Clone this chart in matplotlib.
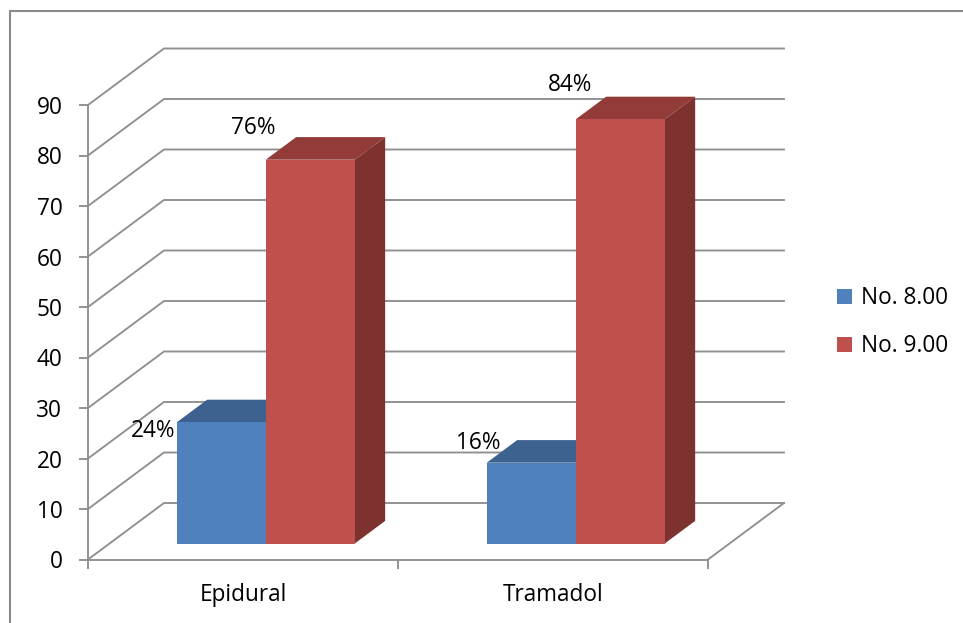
import matplotlib
matplotlib.use("Agg")
import matplotlib.pyplot as plt
from matplotlib.lines import Line2D
from matplotlib.patches import Patch

# Chart data
categories = ["Epidural", "Tramadol"]
series_names = ["No. 8.00", "No. 9.00"]
no_8_values = [24, 16]
no_9_values = [76, 84]
y_ticks = [0, 10, 20, 30, 40, 50, 60, 70, 80, 90]

W, H = 963, 623
plt.rcParams["font.family"] = ["Open Sans", "DejaVu Sans"]
TEXT_SIZE = 16.3
GRID = "#8f8f8f"
FRAME = "#8a8a8a"
LW = 1.35

fig = plt.figure(figsize=(W / 100, H / 100), dpi=100, facecolor="white")

# Front plane of the 3-D box in figure pixels
left, right, bottom, top = 88, 708, 559.5, 105
ax = fig.add_axes([left / W, 1 - bottom / H, (right - left) / W, (bottom - top) / H])
ax.set_xlim(0, len(categories))
ax.set_ylim(0, 90)
ax.patch.set_alpha(0)

px_x = len(categories) / (right - left)
px_y = 90 / (bottom - top)

# Oblique projection: depth 0 is the front plane, depth 1 the back wall
DEPTH_X = 76 * px_x
DEPTH_Y = 56.5 * px_y


def project(x, y, depth):
    return x + depth * DEPTH_X, y + depth * DEPTH_Y


# Back wall and side wall gridlines
for v in y_ticks:
    x0, y0 = project(0, v, 0)
    x1, y1 = project(0, v, 1)
    x2, y2 = project(len(categories), v, 1)
    ax.plot([x0, x1, x2], [y0, y1, y2], color=GRID, lw=LW, clip_on=False,
            zorder=1, solid_joinstyle="miter")

# Right edge of the floor
x0, y0 = project(len(categories), 0, 0)
x1, y1 = project(len(categories), 0, 1)
ax.plot([x0, x1], [y0, y1], color=GRID, lw=LW, clip_on=False, zorder=1)

# Bars
BAR_W = 89 * px_x
GROUP_CENTRE = 0.504
DEPTH_START = 16 / 56.5
DEPTH_END = 38.6 / 56.5

colours = [
    {"front": "#4F81BD", "top": "#3E6290", "side": "#345377"},
    {"front": "#C0504D", "top": "#933B39", "side": "#7D3230"},
]
# Label offsets from the top-left front corner of each bar, in pixels
label_offsets = [[(-24, -9), (-13, 32)], [(-9, 20), (-6, 34)]]


def draw_bar(x_left, value, style, depth0, depth1):
    shift_x, shift_y = project(0, 0, depth0)
    end_x, end_y = project(0, 0, depth1)
    x_a = x_left + shift_x
    x_b = x_a + BAR_W
    dx = end_x - shift_x
    dy = end_y - shift_y
    ax.bar(x_a, value, width=BAR_W, bottom=shift_y, align="edge",
           color=style["front"], clip_on=False, zorder=4, linewidth=0)
    y_t = value + shift_y
    ax.fill([x_a, x_b, x_b + dx, x_a + dx], [y_t, y_t, y_t + dy, y_t + dy],
            color=style["top"], clip_on=False, zorder=3, linewidth=0)
    ax.fill([x_b, x_b + dx, x_b + dx, x_b],
            [shift_y, shift_y + dy, y_t + dy, y_t],
            color=style["side"], clip_on=False, zorder=3, linewidth=0)
    return x_a, y_t


for i in range(len(categories)):
    base = i + GROUP_CENTRE - BAR_W
    for j, values in enumerate([no_8_values, no_9_values]):
        x_a, y_t = draw_bar(base + j * BAR_W, values[i], colours[j], DEPTH_START, DEPTH_END)
        off_x, off_y = label_offsets[i][j]
        ax.annotate(f"{values[i]}%", (x_a, y_t),
                    xytext=(off_x * 0.72, off_y * 0.72), textcoords="offset points",
                    ha="center", va="center", fontsize=TEXT_SIZE, color="black",
                    annotation_clip=False, zorder=6)

# Axes and ticks
for s in ("top", "right"):
    ax.spines[s].set_visible(False)
for s in ("left", "bottom"):
    ax.spines[s].set_color(GRID)
    ax.spines[s].set_linewidth(LW)
    ax.spines[s].set_zorder(2)

ax.set_yticks(y_ticks)
ax.set_yticklabels([str(v) for v in y_ticks])
ax.tick_params(axis="y", length=6.5, width=LW, color=GRID, pad=12,
               labelsize=TEXT_SIZE, labelcolor="black")
ax.set_xticks(range(len(categories) + 1))
ax.set_xticklabels([])
ax.tick_params(axis="x", which="major", length=6.5, width=LW, color=GRID)
ax.set_xticks([i + 0.5 for i in range(len(categories))], minor=True)
ax.set_xticklabels(categories, minor=True)
ax.tick_params(axis="x", which="minor", length=0, pad=17,
               labelsize=TEXT_SIZE, labelcolor="black")

# Legend
handles = [Patch(facecolor=c["front"], edgecolor="none") for c in colours]
fig.legend(handles, series_names, loc="upper left",
           bbox_to_anchor=(837 / W, 1 - 286.5 / H), bbox_transform=fig.transFigure,
           frameon=False, fontsize=TEXT_SIZE, handlelength=0.66, handleheight=0.66,
           handletextpad=0.38, labelspacing=1.06, borderpad=0, borderaxespad=0)

# Outer chart frame: only its left and top edges fall inside the image
fig.add_artist(Line2D([9.5 / W, 9.5 / W, 1], [0, 1 - 11 / H, 1 - 11 / H],
                      transform=fig.transFigure, color=FRAME, lw=1.5,
                      solid_joinstyle="miter"))

fig.savefig("out.png", dpi=100, facecolor="white")
